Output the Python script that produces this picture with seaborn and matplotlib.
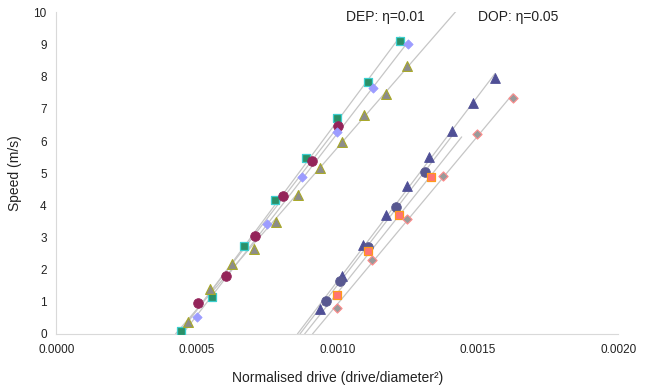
import numpy as np
import pandas as pd
import seaborn as sns
import matplotlib.pyplot as plt

# DEP (eta = 0.01) series
dep_sq_x = [0.000444, 0.000554, 0.000667, 0.000777, 0.000888, 0.000999, 0.001109, 0.001222]
dep_sq_y = [0.10, 1.14, 2.74, 4.17, 5.48, 6.71, 7.84, 9.10]
dep_ci_x = [0.000505, 0.000605, 0.000706, 0.000807, 0.000909, 0.001002]
dep_ci_y = [0.95, 1.80, 3.06, 4.28, 5.39, 6.47]
dep_di_x = [0.000499, 0.000748, 0.000874, 0.000999, 0.001125, 0.001250]
dep_di_y = [0.52, 3.41, 4.87, 6.27, 7.65, 9.02]
dep_tr_x = [0.000468, 0.000546, 0.000623, 0.000703, 0.000780, 0.000858,
            0.000937, 0.001015, 0.001093, 0.001172, 0.001249]
dep_tr_y = [0.36, 1.39, 2.17, 2.65, 3.49, 4.32, 5.16, 5.98, 6.80, 7.46, 8.35]

# DOP (eta = 0.05) series
dop_tr_x = [0.000938, 0.001015, 0.001092, 0.001172, 0.001248, 0.001327, 0.001406, 0.001483, 0.001561]
dop_tr_y = [0.77, 1.80, 2.76, 3.69, 4.61, 5.50, 6.32, 7.19, 7.97]
dop_ci_x = [0.000958, 0.001009, 0.001110, 0.001210, 0.001311]
dop_ci_y = [1.03, 1.66, 2.72, 3.95, 5.05]
dop_sq_x = [0.001000, 0.001110, 0.001220, 0.001332]
dop_sq_y = [1.22, 2.58, 3.70, 4.89]
dop_di_x = [0.001000, 0.001124, 0.001248, 0.001374, 0.001498, 0.001624]
dop_di_y = [0.81, 2.29, 3.58, 4.91, 6.23, 7.33]

x_ticks = [0.0, 0.0005, 0.0010, 0.0015, 0.0020]
y_ticks = list(range(0, 11))

# marker, face colour, edge colour, marker area, edge width, forward forecast of the trendline (x units)
series = [
    (dep_sq_x, dep_sq_y, "s", "#2a9068", "#3ccfcf", 40, 0.9, 0.0),
    (dep_ci_x, dep_ci_y, "o", "#94245a", "#94245a", 48, 0.6, 0.0),
    (dep_di_x, dep_di_y, "D", "#9c9cff", "#9c9cff", 22, 0.6, 0.0),
    (dep_tr_x, dep_tr_y, "^", "#8c8c8c", "#a8a828", 50, 0.8, 0.0002),
    (dop_tr_x, dop_tr_y, "^", "#4f4f96", "#4f4f96", 50, 0.6, 0.0),
    (dop_ci_x, dop_ci_y, "o", "#585890", "#585890", 48, 0.6, 0.0001),
    (dop_sq_x, dop_sq_y, "s", "#ff7373", "#ff9a1a", 36, 0.9, 0.00011),
    (dop_di_x, dop_di_y, "D", "#9a9a9a", "#ff8c8c", 22, 0.8, 0.0),
]

sns.set_theme(style="white")
plt.rcParams["font.family"] = ["Liberation Sans", "DejaVu Sans"]

fig = plt.figure(figsize=(6.5, 3.9), dpi=100)
ax = fig.add_axes([0.0869, 0.1436, 0.8646, 0.8244])

# linear trendlines, extended back to zero speed
for xs, ys, mk, fc, ec, sz, lw, fwd in series:
    a, b = np.polyfit(xs, ys, 1)
    x0 = -b / a
    x1 = max(xs) + fwd
    line = pd.DataFrame({"x": [x0, x1], "y": [a * x0 + b, a * x1 + b]})
    sns.lineplot(data=line, x="x", y="y", color="#c6c6c6", linewidth=0.9,
                 ax=ax, legend=False, zorder=1)

for xs, ys, mk, fc, ec, sz, lw, fwd in series:
    sns.scatterplot(x=xs, y=ys, marker=mk, s=sz, color=fc, edgecolor=ec,
                    linewidth=lw, ax=ax, legend=False, zorder=3)

ax.set_xlim(0, 0.002)
ax.set_ylim(0, 10)
ax.set_xticks(x_ticks)
ax.set_xticklabels([f"{v:.4f}" for v in x_ticks])
ax.set_yticks(y_ticks)
ax.set_yticklabels([str(v) for v in y_ticks])
ax.tick_params(direction="in", length=4, width=0.8, color="#cfcfcf",
               labelsize=8.5, labelcolor="#222222", pad=7)

for side in ("top", "right"):
    ax.spines[side].set_visible(False)
for side in ("left", "bottom"):
    ax.spines[side].set_color("#d9d9d9")
    ax.spines[side].set_linewidth(0.8)

ax.set_xlabel("Normalised drive (drive/diameter²)", fontsize=10, color="#222222", labelpad=11)
ax.set_ylabel("Speed (m/s)", fontsize=10, color="#222222", labelpad=8)

ax.text(0.001172, 9.86, "DEP: η=0.01", ha="center", va="center", fontsize=10, color="#222222")
ax.text(0.001643, 9.86, "DOP: η=0.05", ha="center", va="center", fontsize=10, color="#222222")

fig.savefig("out.png", dpi=100)
